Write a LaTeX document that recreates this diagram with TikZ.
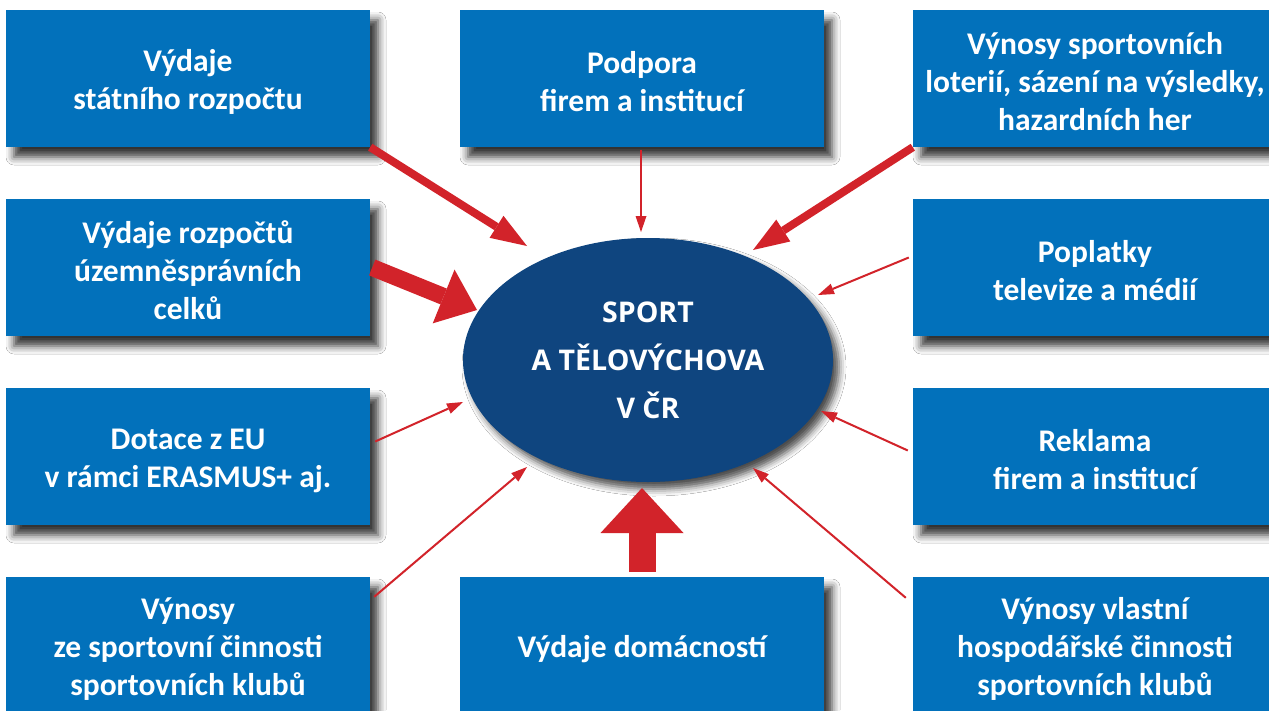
\documentclass[tikz,border=0pt]{standalone}
\usepackage{fontspec}
\setmainfont{Carlito}
\newfontfamily\ellfont{Open Sans}
\usetikzlibrary{arrows.meta,shapes.geometric,shadows.blur}
\definecolor{boxblue}{HTML}{0271BB}
\definecolor{ellblue}{HTML}{0F457F}
\definecolor{arrred}{HTML}{D2232A}
\begin{document}
\begin{tikzpicture}[x=1pt,y=-1pt,
  box/.style={rectangle, fill=boxblue, minimum width=364pt, minimum height=137pt,
    inner sep=0pt, text=white, align=center,
    font=\fontsize{31.5}{38}\selectfont\bfseries,
    blur shadow={shadow xshift=8pt,shadow yshift=-10pt,shadow blur radius=8pt,shadow opacity=80}},
  centre/.style={ellipse, fill=ellblue, minimum width=370pt, minimum height=244pt,
    inner sep=0pt, text=white, align=center,
    font=\ellfont\bfseries\fontsize{28.5}{48}\selectfont,
    blur shadow={shadow xshift=6pt,shadow yshift=-7pt,shadow blur radius=7pt,shadow opacity=70}},
  thickarr/.style={draw=arrred, line width=8pt, -{Triangle[length=36pt,width=26pt,line width=0pt]}},
  heavyarr/.style={draw=arrred, line width=17pt, -{Triangle[length=36pt,width=58pt,line width=0pt]}},
  thinarr/.style={draw=arrred, line width=2pt, -{Triangle[length=16pt,width=11pt,line width=0pt]}},
  blockarr/.style={draw=arrred, line width=27pt, -{Triangle[length=45pt,width=83pt,line width=0pt]}}
]
\useasboundingbox (0,0) rectangle (1269,710);
\clip (0,0) rectangle (1269,710);
\fill[white] (0,0) rectangle (1269,710);

\node[box] (TL) at (188,78.5) {\rule{0pt}{29pt}Výdaje\\státního rozpočtu};
\node[box] (TM) at (642,78.5) {\rule{0pt}{29pt}Podpora\\firem a institucí};
\node[box] (TR) at (1095,78.5) {\rule{0pt}{28pt}Výnosy sportovních\\loterií, sázení na výsledky,\\hazardních her};
\node[box] (ML) at (188,267.5) {\rule{0pt}{28pt}Výdaje rozpočtů\\územněsprávních\\celků};
\node[box] (MR) at (1095,267.5) {\rule{0pt}{29pt}Poplatky\\televize a médií};
\node[box] (L3) at (188,456.5) {\rule{0pt}{29pt}Dotace z EU\\v rámci ERASMUS+ aj.};
\node[box] (R3) at (1095,456.5) {\rule{0pt}{29pt}Reklama\\firem a institucí};
\node[box] (BL) at (188,645.5) {\rule{0pt}{28pt}Výnosy\\ze sportovní činnosti\\sportovních klubů};
\node[box] (BM) at (642,645.5) {\rule{0pt}{29pt}Výdaje domácností};
\node[box] (BR) at (1095,645.5) {\rule{0pt}{28pt}Výnosy vlastní\\hospodářské činnosti\\sportovních klubů};

\node[centre] (C) at (648,360) {SPORT\\A TĚLOVÝCHOVA\\V ČR};

\coordinate (t1) at (527,246);
\coordinate (t2) at (641,232);
\coordinate (t3) at (753,250);
\coordinate (t4) at (477,310);
\coordinate (t5) at (818,295);
\coordinate (t6) at (463,402);
\coordinate (t7) at (821,411);
\coordinate (t8) at (527,467);
\coordinate (t9) at (753,468);
\coordinate (t10) at (642,488);

\draw[thickarr] (TL.south east) -- (t1);
\draw[thinarr] ([shift={(-1,3)}]TM.south) -- (t2);
\draw[thickarr] (TR.south west) -- (t3);
\draw[heavyarr] ([shift={(2,0)}]ML.east) -- (t4);
\draw[thinarr] ([shift={(-4,-10)}]MR.west) -- (t5);
\draw[thinarr] ([shift={(5,-15)}]L3.east) -- (t6);
\draw[thinarr] ([shift={(-5,-6)}]R3.west) -- (t7);
\draw[thinarr] ([shift={(4,20)}]BL.north east) -- (t8);
\draw[thinarr] ([shift={(-7,21)}]BR.north west) -- (t9);
\draw[blockarr] ([shift={(0,-5)}]BM.north) -- (t10);
\end{tikzpicture}
\end{document}
